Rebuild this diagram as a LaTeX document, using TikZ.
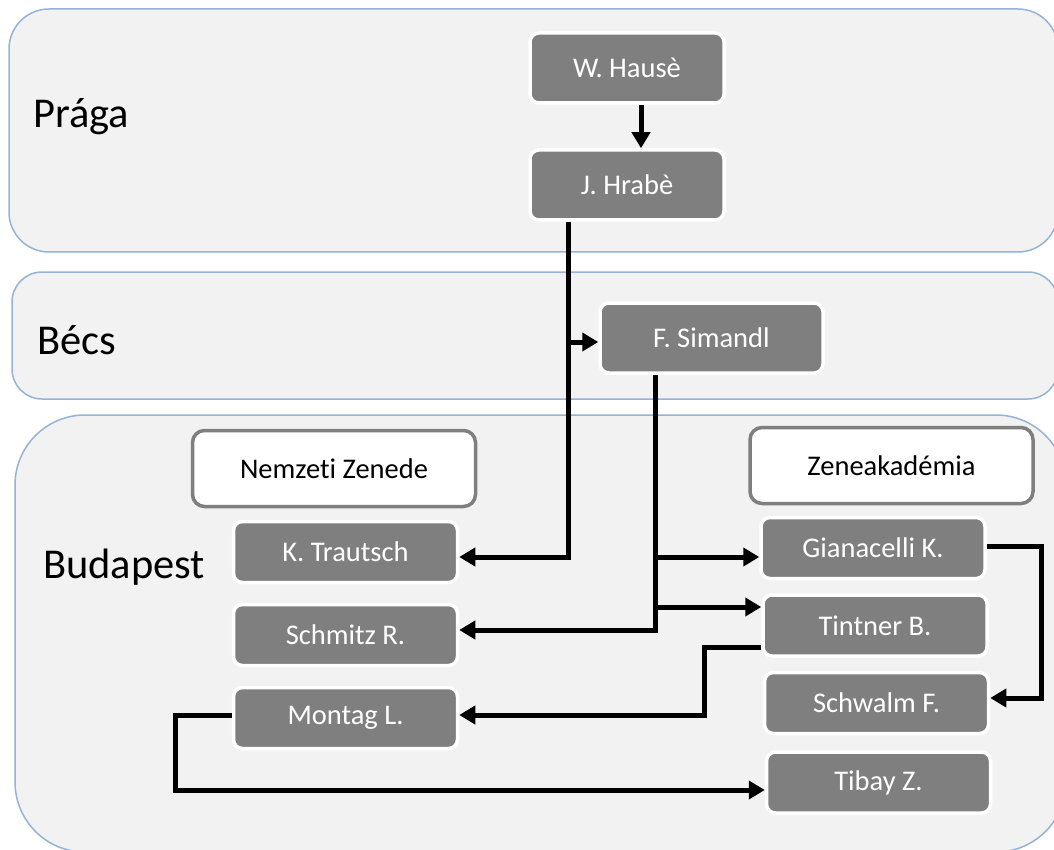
\documentclass[tikz,border=0pt]{standalone}
\usepackage{fontspec}
\setmainfont{Carlito}[Ligatures={NoCommon}]
\usetikzlibrary{arrows.meta}
\definecolor{panelfill}{HTML}{F2F2F2}
\definecolor{panelline}{HTML}{95B3D7}
\definecolor{boxgray}{HTML}{7F7F7F}
\tikzset{
  panel/.style={fill=panelfill, draw=panelline, line width=1.5pt},
  citylabel/.style={anchor=base west, inner sep=0pt, font=\fontsize{42.5}{50}\selectfont, text=black},
  person/.style={rectangle, rounded corners=9pt, fill=boxgray, draw=white, line width=3.5pt,
    text=white, font=\fontsize{28.5}{34}\selectfont, inner sep=0pt, minimum width=224pt, minimum height=61pt},
  header/.style={rectangle, rounded corners=12pt, fill=white, draw=boxgray, line width=3.5pt,
    text=black, font=\fontsize{28.5}{34}\selectfont, inner sep=0pt, minimum width=283pt, minimum height=76pt},
  conn/.style={line width=5pt, draw=black},
  arr/.style={conn, -{Triangle[length=16pt, width=18pt]}},
}
\begin{document}
\begin{tikzpicture}[x=1pt, y=-1pt]
\useasboundingbox (0,0) rectangle (1054,850);
\begin{scope}
\clip (0,0) rectangle (1054,850);
% panels
\draw[panel, rounded corners=40pt] (9,9) rectangle (1058,252);
\draw[panel, rounded corners=30pt] (12,272) rectangle (1058,399);
\draw[panel, rounded corners=70pt] (15,415) rectangle (1066,852);
\end{scope}
% city labels
\node[citylabel] (praga) at (33,128) {Prága};
\node[citylabel] (becs) at (37,354) {Bécs};
\node[citylabel] (budapest) at (43,578) {Budapest};
% persons
\node[person, minimum width=194pt, minimum height=70pt] (hause) at (627,68) {W. Hausè};
\node[person, minimum width=194pt, minimum height=70pt] (hrabe) at (627,185) {J. Hrabè};
\node[person, minimum width=223pt, minimum height=70pt] (simandl) at (711.5,338) {F. Simandl};
\node[header] (nz) at (334,468.5) {Nemzeti Zenede};
\node[header] (za) at (891.5,465.5) {Zeneakadémia};
\node[person] (trautsch) at (345.5,552) {K. Trautsch};
\node[person] (schmitz) at (345.5,635) {Schmitz R.};
\node[person] (montag) at (345.5,718) {Montag L.};
\node[person] (gian) at (873,548) {Gianacelli K.};
\node[person] (tintner) at (875,625.5) {Tintner B.};
\node[person] (schwalm) at (876.5,703) {Schwalm F.};
\node[person] (tibay) at (878.5,782.5) {Tibay Z.};
% junction coordinates on the vertical lines
\coordinate (jsim) at (568,342);
\coordinate (jgian) at (655,557);
\coordinate (jtint) at (655,607);
% connectors
\draw[arr] ([xshift=14pt]hause.south) -- ([xshift=14pt]hrabe.north);
\draw[arr] ([xshift=-59pt]hrabe.south) |- ([yshift=-5pt]trautsch.east);
\draw[arr] (jsim) -- ([yshift=-4pt]simandl.west);
\draw[arr] ([xshift=-56.5pt]simandl.south) |- ([yshift=5pt]schmitz.east);
\draw[arr] (jgian) -- ([yshift=-9pt]gian.west);
\draw[arr] (jtint) -- ([yshift=18.5pt]tintner.west);
\draw[arr] ([yshift=-21.5pt]tintner.west) -- ++(-57,0) |- ([yshift=3pt]montag.east);
\draw[arr] ([yshift=2pt]gian.east) -- ++(55,0) |- ([yshift=5pt]schwalm.east);
\draw[arr] ([yshift=3pt]montag.west) -- ++(-56,0) |- ([yshift=-7.5pt]tibay.west);
\end{tikzpicture}
\end{document}
